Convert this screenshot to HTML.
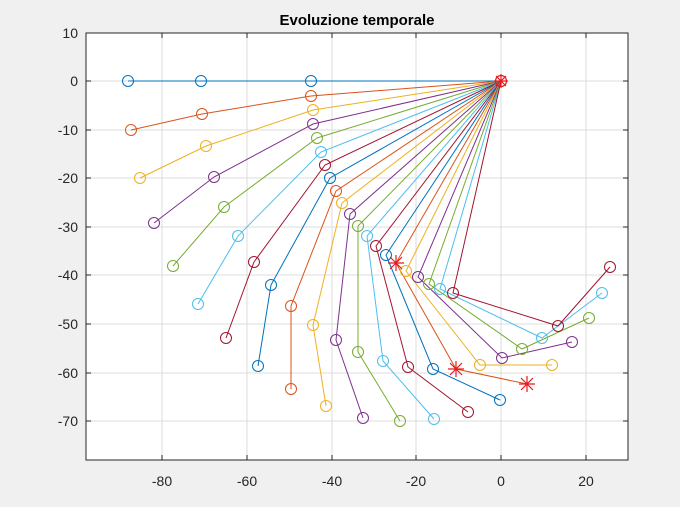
<!DOCTYPE html>
<html><head><meta charset="utf-8"><style>
html,body{margin:0;padding:0;background:#f0f0f0;width:680px;height:507px;overflow:hidden}
svg{display:block;font-family:"Liberation Sans",Arial,sans-serif}
</style></head><body>
<svg width="680" height="507" viewBox="0 0 680 507" xmlns="http://www.w3.org/2000/svg">
<rect x="0" y="0" width="680" height="507" fill="#f0f0f0"/>
<rect x="86" y="33" width="542" height="427" fill="#fff"/>
<g stroke="#dcdcdc" stroke-width="1">
<line x1="162" y1="33" x2="162" y2="460"/><line x1="247" y1="33" x2="247" y2="460"/><line x1="332" y1="33" x2="332" y2="460"/><line x1="416" y1="33" x2="416" y2="460"/><line x1="501" y1="33" x2="501" y2="460"/><line x1="586" y1="33" x2="586" y2="460"/>
<line x1="86" y1="81" x2="628" y2="81"/><line x1="86" y1="130" x2="628" y2="130"/><line x1="86" y1="178" x2="628" y2="178"/><line x1="86" y1="227" x2="628" y2="227"/><line x1="86" y1="275" x2="628" y2="275"/><line x1="86" y1="324" x2="628" y2="324"/><line x1="86" y1="373" x2="628" y2="373"/><line x1="86" y1="421" x2="628" y2="421"/>
</g>
<g fill="none" stroke-width="1">
<g stroke="#0072BD"><polyline points="501,81 311,81 201,81 128,81"/><circle cx="311" cy="81" r="5.5"/><circle cx="201" cy="81" r="5.5"/><circle cx="128" cy="81" r="5.5"/></g>
<g stroke="#D95319"><polyline points="501,81 311,96 202,114 131,130"/><circle cx="311" cy="96" r="5.5"/><circle cx="202" cy="114" r="5.5"/><circle cx="131" cy="130" r="5.5"/></g>
<g stroke="#EDB120"><polyline points="501,81 313,110 206,146 140,178"/><circle cx="313" cy="110" r="5.5"/><circle cx="206" cy="146" r="5.5"/><circle cx="140" cy="178" r="5.5"/></g>
<g stroke="#7E2F8E"><polyline points="501,81 313,124 214,177 154,223"/><circle cx="313" cy="124" r="5.5"/><circle cx="214" cy="177" r="5.5"/><circle cx="154" cy="223" r="5.5"/></g>
<g stroke="#77AC30"><polyline points="501,81 317,138 224,207 173,266"/><circle cx="317" cy="138" r="5.5"/><circle cx="224" cy="207" r="5.5"/><circle cx="173" cy="266" r="5.5"/></g>
<g stroke="#4DBEEE"><polyline points="501,81 321,152 238,236 198,304"/><circle cx="321" cy="152" r="5.5"/><circle cx="238" cy="236" r="5.5"/><circle cx="198" cy="304" r="5.5"/></g>
<g stroke="#A2142F"><polyline points="501,81 325,165 254,262 226,338"/><circle cx="325" cy="165" r="5.5"/><circle cx="254" cy="262" r="5.5"/><circle cx="226" cy="338" r="5.5"/></g>
<g stroke="#0072BD"><polyline points="501,81 330,178 271,285 258,366"/><circle cx="330" cy="178" r="5.5"/><circle cx="271" cy="285" r="5.5"/><circle cx="258" cy="366" r="5.5"/></g>
<g stroke="#D95319"><polyline points="501,81 336,191 291,306 291,389"/><circle cx="336" cy="191" r="5.5"/><circle cx="291" cy="306" r="5.5"/><circle cx="291" cy="389" r="5.5"/></g>
<g stroke="#EDB120"><polyline points="501,81 342,203 313,325 326,406"/><circle cx="342" cy="203" r="5.5"/><circle cx="313" cy="325" r="5.5"/><circle cx="326" cy="406" r="5.5"/></g>
<g stroke="#7E2F8E"><polyline points="501,81 350,214 336,340 363,418"/><circle cx="350" cy="214" r="5.5"/><circle cx="336" cy="340" r="5.5"/><circle cx="363" cy="418" r="5.5"/></g>
<g stroke="#77AC30"><polyline points="501,81 358,226 358,352 400,421"/><circle cx="358" cy="226" r="5.5"/><circle cx="358" cy="352" r="5.5"/><circle cx="400" cy="421" r="5.5"/></g>
<g stroke="#4DBEEE"><polyline points="501,81 367,236 383,361 434,419"/><circle cx="367" cy="236" r="5.5"/><circle cx="383" cy="361" r="5.5"/><circle cx="434" cy="419" r="5.5"/></g>
<g stroke="#A2142F"><polyline points="501,81 376,246 408,367 468,412"/><circle cx="376" cy="246" r="5.5"/><circle cx="408" cy="367" r="5.5"/><circle cx="468" cy="412" r="5.5"/></g>
<g stroke="#0072BD"><polyline points="501,81 386,255 433,369 500,400"/><circle cx="386" cy="255" r="5.5"/><circle cx="433" cy="369" r="5.5"/><circle cx="500" cy="400" r="5.5"/></g>
<g stroke="#D95319"><polyline points="501,81 396,263 456,369 527,384"/></g>
<g stroke="#EDB120"><polyline points="501,81 406,271 480,365 552,365"/><circle cx="406" cy="271" r="5.5"/><circle cx="480" cy="365" r="5.5"/><circle cx="552" cy="365" r="5.5"/></g>
<g stroke="#7E2F8E"><polyline points="501,81 418,277 502,358 572,342"/><circle cx="418" cy="277" r="5.5"/><circle cx="502" cy="358" r="5.5"/><circle cx="572" cy="342" r="5.5"/></g>
<g stroke="#77AC30"><polyline points="501,81 429,284 522,349 589,318"/><circle cx="429" cy="284" r="5.5"/><circle cx="522" cy="349" r="5.5"/><circle cx="589" cy="318" r="5.5"/></g>
<g stroke="#4DBEEE"><polyline points="501,81 440,289 542,338 602,293"/><circle cx="440" cy="289" r="5.5"/><circle cx="542" cy="338" r="5.5"/><circle cx="602" cy="293" r="5.5"/></g>
<g stroke="#A2142F"><polyline points="501,81 453,293 558,326 610,267"/><circle cx="453" cy="293" r="5.5"/><circle cx="558" cy="326" r="5.5"/><circle cx="610" cy="267" r="5.5"/></g>
<g stroke="#e8191e" stroke-width="1.2">
<path d="M388,263h16M396,255v16M390,257l12,12M402,257l-12,12"/>
<path d="M448,369h16M456,361v16M450,363l12,12M462,363l-12,12"/>
<path d="M519,384h16M527,376v16M521,378l12,12M533,378l-12,12"/>
<path d="M494,81h14M501,74v14M496,76l10,10M506,76l-10,10"/>
<circle cx="501" cy="81" r="5.5"/>
</g>
</g>
<rect x="86" y="33" width="542" height="427" fill="none" stroke="#262626" stroke-width="1"/>
<g stroke="#262626" stroke-width="1">
<path d="M162,460v-5M247,460v-5M332,460v-5M416,460v-5M501,460v-5M586,460v-5M162,33v5M247,33v5M332,33v5M416,33v5M501,33v5M586,33v5"/>
<path d="M86,33h5M86,81h5M86,130h5M86,178h5M86,227h5M86,275h5M86,324h5M86,373h5M86,421h5M628,81h-5M628,130h-5M628,178h-5M628,227h-5M628,275h-5M628,324h-5M628,373h-5M628,421h-5"/>
</g>
<g fill="#262626" font-size="14" text-anchor="middle">
<text x="162" y="486">-80</text><text x="247" y="486">-60</text><text x="332" y="486">-40</text><text x="416" y="486">-20</text><text x="501" y="486">0</text><text x="586" y="486">20</text>
</g>
<g fill="#262626" font-size="14" text-anchor="end">
<text x="78" y="38">10</text><text x="78" y="86">0</text><text x="78" y="135">-10</text><text x="78" y="183">-20</text><text x="78" y="232">-30</text><text x="78" y="280">-40</text><text x="78" y="329">-50</text><text x="78" y="378">-60</text><text x="78" y="426">-70</text>
</g>
<text x="357" y="25" font-size="15" font-weight="bold" text-anchor="middle" fill="#000">Evoluzione temporale</text>
</svg>
</body></html>
